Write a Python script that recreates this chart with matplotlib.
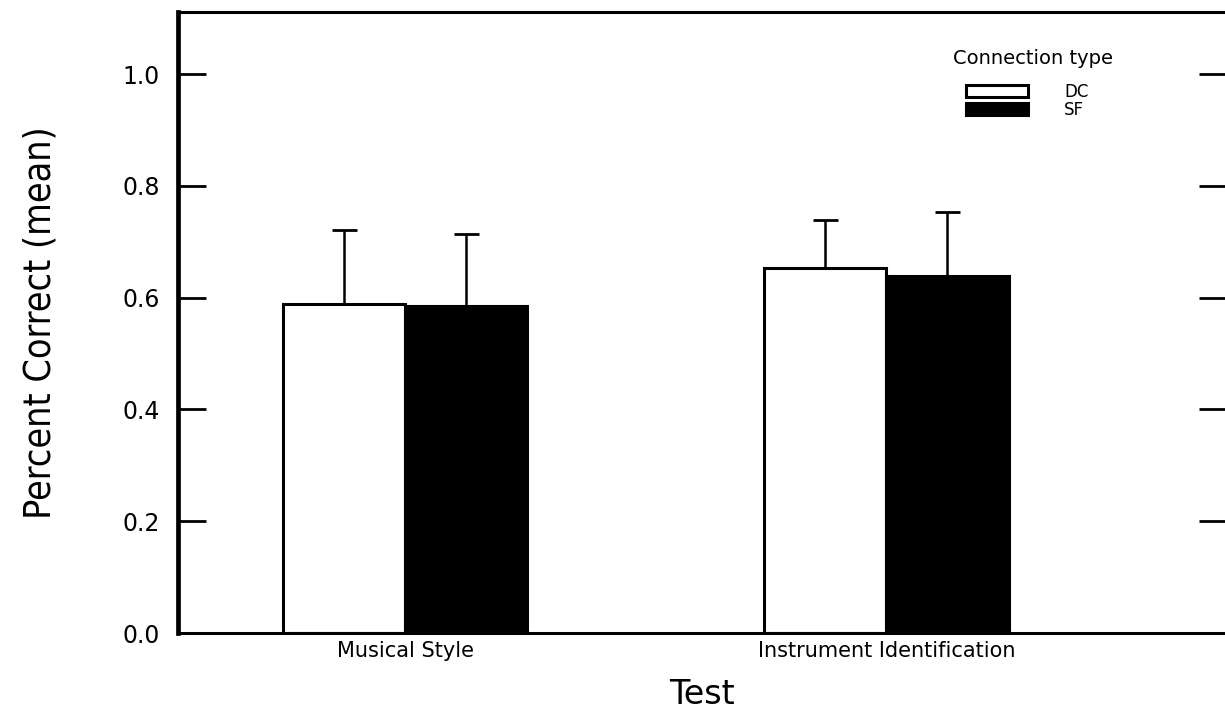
import numpy as np
import matplotlib
matplotlib.use('Agg')
from matplotlib import pyplot as plt

# values
tests = ['Musical Style', 'Instrument Identification']
dc_mean = [0.589, 0.653]
sf_mean = [0.585, 0.639]
dc_err = [0.132, 0.086]
sf_err = [0.129, 0.114]
yticks = [0.0, 0.2, 0.4, 0.6, 0.8, 1.0]

fig = plt.figure(figsize=(12.25, 7.13), dpi=100)
ax = fig.add_axes([0.1453, 0.1122, 0.856, 0.871])

x = np.arange(len(tests))
w = 0.254

ax.bar(x - w / 2, dc_mean, w, color='white', edgecolor='black', linewidth=2.2, label='DC', zorder=2)
ax.bar(x + w / 2, sf_mean, w, color='black', edgecolor='black', linewidth=2.2, label='SF', zorder=2)

# only the upper half of the error bars is drawn
ax.errorbar(x - w / 2, dc_mean, yerr=[np.zeros(len(x)), dc_err], fmt='none',
            ecolor='black', elinewidth=1.8, capsize=9, capthick=2, zorder=1)
ax.errorbar(x + w / 2, sf_mean, yerr=[np.zeros(len(x)), sf_err], fmt='none',
            ecolor='black', elinewidth=1.8, capsize=9, capthick=2, zorder=1)

ax.set_xlim(-0.472, 1.707)
ax.set_ylim(0, 1.111)

ax.set_xticks(x)
ax.set_xticklabels(tests, fontsize=15, family='DejaVu Sans')
ax.set_yticks(yticks)
ax.set_yticklabels(['%.1f' % v for v in yticks], fontsize=17, family='DejaVu Sans')

ax.tick_params(axis='x', length=0, pad=6)
ax.tick_params(axis='y', direction='in', length=20, width=2, pad=13, right=True)

for side in ['top', 'bottom', 'right']:
    ax.spines[side].set_linewidth(2.2)
ax.spines['left'].set_linewidth(3.4)

ax.set_ylabel('Percent Correct (mean)', fontsize=27, fontstretch='condensed',
              family=['Liberation Sans Narrow', 'DejaVu Sans'], labelpad=46)
ax.set_xlabel('Test', fontsize=24, family='DejaVu Sans', labelpad=12)

# legend title as its own text so the gap above the boxes matches
fig.text(1033 / 1225, 1 - 58 / 713, 'Connection type', fontsize=14,
         ha='center', va='center', family='DejaVu Sans')
leg = ax.legend(loc='upper left',
                bbox_to_anchor=(966 / 1225, 1 - 83 / 713), bbox_transform=fig.transFigure,
                frameon=False, fontsize=12,
                handlelength=3.7, handleheight=0.72, handletextpad=2.2,
                labelspacing=0.0, borderpad=0, borderaxespad=0)
for p in leg.get_patches():
    p.set_linewidth(2.2)

plt.savefig('out.png', dpi=100)
